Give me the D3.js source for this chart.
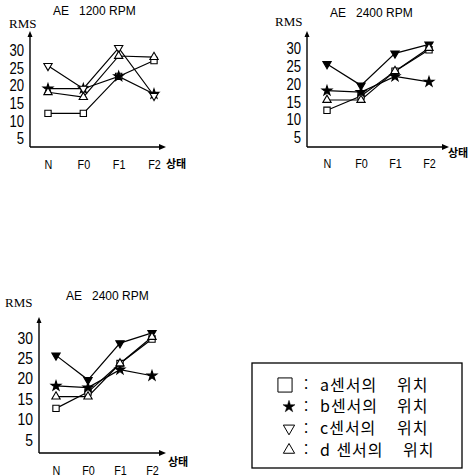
<!DOCTYPE html>
<html lang="ko">
<head>
<meta charset="UTF-8">
<script src="https://d3js.org/d3.v7.min.js"></script>
<style>
  body { margin: 0; background: #fff; }
  svg text { white-space: pre; }
</style>
</head>
<body>
<div id="chart"></div>
<script>
// state categories on the x axis
const categories = ["N", "F0", "F1", "F2"];
const yTicks = [5, 10, 15, 20, 25, 30];

// RMS per sensor position, AE 1200 RPM
const rpm1200_a = [12, 12, 22.5, 27];
const rpm1200_b = [19, 19, 22.5, 17.5];
const rpm1200_c = [25.5, 19, 30.6, 17];
const rpm1200_d = [18, 16.6, 28.3, 28];

// RMS per sensor position, AE 2400 RPM
const rpm2400_a = [12.5, 16.5, 23.5, 29.5];
const rpm2400_b = [18, 17.6, 22, 20.5];
const rpm2400_c = [25.5, 19.5, 28.5, 31];
const rpm2400_d = [15.4, 15.4, 23.5, 30];

const legendKeys = ["a", "b", "c", "d "];
const legendText = "센서의";
const legendPos = "위치";

const W = 475, H = 476;
const svg = d3.select("#chart").append("svg")
    .attr("width", W).attr("height", H);

const numFont = "'Liberation Sans', Arial, sans-serif";
const narrow = "'Liberation Sans Narrow', 'Liberation Sans', sans-serif";
const serif = "'Liberation Serif', serif";
const kor = "'Noto Sans CJK KR', sans-serif";

function drawPanel(p) {
    const g = svg.append("g");
    const x = d3.scalePoint().domain(categories).range([p.xN, p.xF2]);
    const y = d3.scaleLinear().domain([5, 30]).range([p.y5, p.y30]);

    const symbols = [
        { type: d3.symbolSquare, size: 40, fill: "#fff", rot: 0 },
        { type: d3.symbolStar, size: 30, fill: "#000", rot: 0 },
        { type: d3.symbolTriangle, size: 30, fill: p.cFill, rot: 180 },
        { type: d3.symbolTriangle, size: 30, fill: "#fff", rot: 0 }
    ];

    // axis lines with arrow heads
    g.append("line").attr("x1", p.ox).attr("y1", p.oy).attr("x2", p.ox).attr("y2", p.top + 3)
        .attr("stroke", "#000").attr("stroke-width", 1.4);
    g.append("line").attr("x1", p.ox).attr("y1", p.oy).attr("x2", p.right - 3).attr("y2", p.oy)
        .attr("stroke", "#000").attr("stroke-width", 1.4);
    g.append("path").attr("d", `M${p.ox},${p.top} l-2.5,6 l5,0 z`).attr("fill", "#000");
    g.append("path").attr("d", `M${p.right},${p.oy} l-7,-3 l0,6 z`).attr("fill", "#000");

    const ya = g.append("g").attr("transform", `translate(${p.labX},0)`)
        .call(d3.axisLeft(y).tickValues(yTicks).tickSize(0).tickPadding(0));
    ya.select(".domain").remove();
    ya.selectAll("text").attr("font-family", numFont).attr("font-size", p.fs)
        .attr("fill", "#000").attr("dy", "0.36em").attr("transform", "scale(0.82,1)");

    const xa = g.append("g").attr("transform", `translate(0,${p.xlabY})`)
        .call(d3.axisBottom(x).tickSize(0).tickPadding(0));
    xa.select(".domain").remove();
    xa.selectAll("text").attr("font-family", numFont).attr("font-size", 12)
        .attr("fill", "#000").attr("dy", 0).attr("transform", "scale(0.9,1)");

    g.append("text").attr("x", p.titleX).attr("y", p.titleY)
        .attr("font-family", narrow).attr("font-size", 12).text(p.title);
    g.append("text").attr("x", p.rmsX).attr("y", p.rmsY)
        .attr("font-family", serif).attr("font-size", 13).text("RMS");
    g.append("text").attr("x", p.stateX).attr("y", p.stateY)
        .attr("font-family", kor).attr("font-weight", 700).attr("font-size", 11).text("상태");

    const line = d3.line().x((d, i) => x(categories[i])).y(d => y(d));
    p.series.forEach(s => {
        g.append("path").attr("d", line(s)).attr("fill", "none")
            .attr("stroke", "#000").attr("stroke-width", 1.2);
    });
    p.series.forEach((s, k) => {
        const sym = symbols[k];
        g.selectAll(null).data(s).enter().append("path")
            .attr("d", d3.symbol().type(sym.type).size(sym.size))
            .attr("transform", (d, i) => `translate(${x(categories[i])},${y(d)}) rotate(${sym.rot})`)
            .attr("fill", sym.fill).attr("stroke", "#000").attr("stroke-width", 1.1);
    });
}

const panels = [
    { title: "AE   1200 RPM", series: [rpm1200_a, rpm1200_b, rpm1200_c, rpm1200_d], cFill: "#fff",
      ox: 30, oy: 147, top: 31, right: 166, y30: 50, y5: 138, xN: 48, xF2: 154, labX: 24,
      fs: 16, xlabY: 169, titleX: 53, titleY: 15, rmsX: 9, rmsY: 28, stateX: 166, stateY: 168 },
    { title: "AE   2400 RPM", series: [rpm2400_a, rpm2400_b, rpm2400_c, rpm2400_d], cFill: "#000",
      ox: 307, oy: 147, top: 31, right: 449, y30: 48, y5: 137, xN: 327, xF2: 429, labX: 301,
      fs: 16, xlabY: 168, titleX: 330, titleY: 17, rmsX: 275, rmsY: 26, stateX: 448, stateY: 157 },
    { title: "AE   2400 RPM", series: [rpm2400_a, rpm2400_b, rpm2400_c, rpm2400_d], cFill: "#000",
      ox: 39, oy: 453, top: 317, right: 166, y30: 337, y5: 439, xN: 56, xF2: 152, labX: 33,
      fs: 17, xlabY: 475, titleX: 66, titleY: 300, rmsX: 5, rmsY: 307, stateX: 168, stateY: 466 }
];
panels.forEach(drawPanel);

// legend
const lg = svg.append("g");
lg.append("rect").attr("x", 252).attr("y", 363).attr("width", 210).attr("height", 105)
    .attr("fill", "none").attr("stroke", "#000").attr("stroke-width", 1.3);
const legY = d3.scalePoint().domain(legendKeys).range([385, 450]);
const legSyms = [
    { type: d3.symbolSquare, size: 200, fill: "#fff", rot: 0, sw: 1, x: 285 },
    { type: d3.symbolStar, size: 45, fill: "#000", rot: 0, sw: 0.5, x: 289 },
    { type: d3.symbolTriangle, size: 55, fill: "#fff", rot: 180, sw: 1, x: 289 },
    { type: d3.symbolTriangle, size: 55, fill: "#fff", rot: 0, sw: 1, x: 289 }
];
legendKeys.forEach((t, k) => {
    const s = legSyms[k];
    const yy = legY(t);
    lg.append("path").attr("d", d3.symbol().type(s.type).size(s.size))
        .attr("transform", `translate(${s.x},${yy}) rotate(${s.rot})`)
        .attr("fill", s.fill).attr("stroke", "#000").attr("stroke-width", s.sw);
    lg.append("text").attr("x", 306).attr("y", yy).attr("dy", "0.35em")
        .attr("text-anchor", "middle").attr("font-family", kor).attr("font-size", 15).text(":");
    lg.append("text").attr("x", 320).attr("y", yy).attr("dy", "0.36em")
        .attr("font-family", kor).attr("font-size", 16).attr("letter-spacing", 1)
        .text(t + legendText);
    lg.append("text").attr("x", k === 3 ? 403 : 397).attr("y", yy).attr("dy", "0.36em")
        .attr("font-family", kor).attr("font-size", 16).attr("letter-spacing", 1)
        .text(legendPos);
});
</script>
</body>
</html>
